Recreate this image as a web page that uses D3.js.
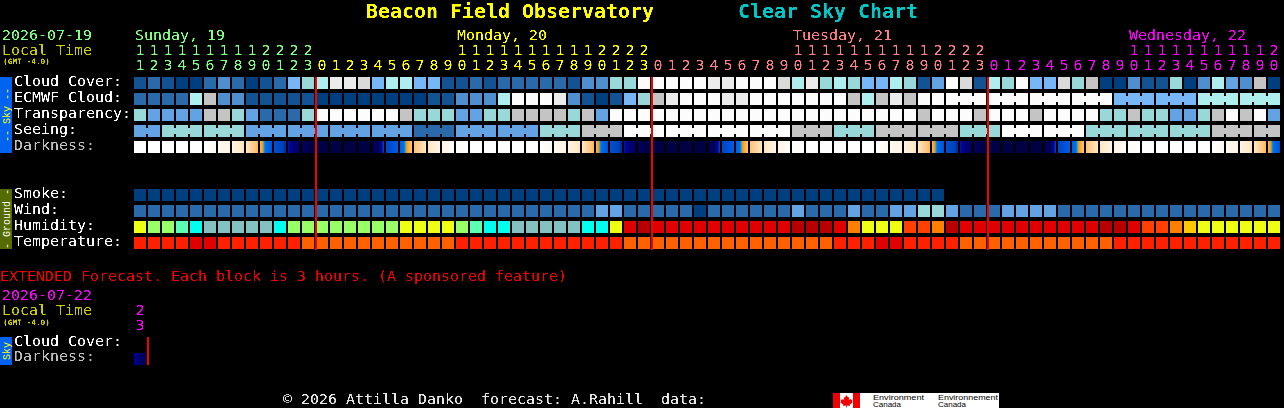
<!DOCTYPE html>
<html>
<head>
<meta charset="utf-8">
<title>Clear Sky Chart</title>
<script src="https://cdn.jsdelivr.net/npm/d3@7"></script>
<style>
html,body{margin:0;padding:0;background:#000;overflow:hidden}
svg{display:block}
text{white-space:pre}
</style>
</head>
<body>
<svg id="chart" width="1284" height="408"></svg>
<script>
// ---------- data ----------
const titleText = "Beacon Field Observatory";
const chartText = "Clear Sky Chart";
const firstHour = 11;
const dayNames = ["Sunday, 19", "Monday, 20", "Tuesday, 21", "Wednesday, 22"];
const skyRows = ["Cloud Cover:", "ECMWF Cloud:", "Transparency:", "Seeing:", "Darkness:"];
const groundRows = ["Smoke:", "Wind:", "Humidity:", "Temperature:"];
const extendedHours = [23];

const cloudCover = [1,2,1,0,0,2,3,2,0,1,2,5,6,
  7,10,10,9,5,7,7,5,5,1,1,2,1,2,2,2,2,2,1,3,3,6,6,11,
  11,11,11,11,10,10,11,11,11,9,7,10,6,7,6,5,5,7,6,1,4,11,9,1,
  7,6,11,5,5,9,6,8,0,0,3,1,1,6,0,3,7,4,3,8,0];
const ecmwfCloud = [2,2,2,2,7,8,3,3,1,1,1,1,1,
  0,0,0,0,0,0,0,0,1,1,3,3,3,7,11,11,11,10,3,1,0,1,5,6,
  8,10,11,11,11,10,10,11,11,11,11,11,11,11,8,7,8,10,8,11,11,11,11,11,
  11,11,11,11,11,11,11,11,11,5,5,5,5,5,5,7,7,7,7,7,7];
const transparency = [6,4,4,4,4,8,8,6,4,2,2,2,6,
  11,11,11,11,11,11,8,6,6,6,4,4,6,6,8,8,8,8,6,8,4,11,11,11,
  11,11,11,11,11,11,11,11,11,11,11,11,11,11,11,11,11,11,11,8,11,11,11,8,
  11,11,11,8,11,11,11,11,6,6,8,6,6,4,4,6,8,11,8,11,4];
const seeing = [4,4,6,6,6,6,6,6,4,4,4,4,4,
  4,4,4,4,4,4,4,2,2,2,4,4,4,4,4,4,6,6,6,8,8,8,11,11,
  11,11,11,11,11,11,11,11,11,11,8,8,8,6,6,6,8,8,8,8,8,8,6,6,
  6,11,11,11,11,11,11,6,6,6,6,6,6,6,6,6,8,8,8,8,8];
// darkness at each block boundary: 0 = daylight, 1 = full night
const darkness = [0,0,0,0,0,0,.05,.11,.2,.35,.5,.6,.78,.92,.97,.98,.98,.97,.55,.46,.32,.2,.1,.02,
  0,0,0,0,0,0,.05,.11,.2,.35,.5,.6,.78,.92,.97,.98,.98,.97,.55,.46,.32,.2,.1,.02,
  0,0,0,0,0,0,.05,.11,.2,.35,.5,.6,.78,.92,.97,.98,.98,.97,.55,.46,.32,.2,.1,.02,
  0,0,0,0,0,0,.05,.11,.2,.35,.5];
const smoke = [0,0,0,0,0,0,0,0,0,0,0,0,0,
  0,0,0,0,0,0,0,0,0,0,0,0,0,0,0,0,0,0,0,0,0,0,0,0,
  0,0,0,0,0,0,0,0,0,0,0,0,0,0,0,0,0,0,0,0,0];
const wind = [2,2,2,2,2,2,2,2,2,2,2,2,2,
  2,2,2,2,2,2,2,2,2,2,2,2,2,2,2,2,2,2,2,2,4,4,2,2,
  2,2,2,0,2,2,2,2,2,2,4,2,2,2,4,2,2,4,4,6,6,4,2,2,
  2,4,4,4,4,2,2,2,2,2,2,2,2,2,2,2,2,2,2,2,2];
const humidity = [60,55,55,50,45,40,40,40,40,40,45,55,55,
  55,55,55,55,55,55,60,60,60,60,55,50,45,45,40,40,40,40,40,45,45,60,85,95,
  85,85,85,85,85,85,85,85,85,85,95,95,95,85,70,60,60,60,75,75,70,95,85,85,
  85,85,85,85,85,85,85,85,95,95,85,75,75,70,65,60,60,60,60,60,60];
const temperature = [23,23,23,23,28,28,23,23,23,23,23,23,18,
  18,18,18,18,18,18,18,18,18,18,23,23,23,23,23,23,23,23,23,23,23,23,18,18,
  18,18,18,18,18,18,18,18,18,18,18,18,18,23,23,23,28,28,23,23,23,23,18,18,
  18,18,18,18,18,18,18,18,18,23,23,23,23,23,23,23,23,23,23,23,23];
const extendedDarkness = [.62,.82];

// ---------- colour scales ----------
const skyLevels = d3.scaleOrdinal().domain(d3.range(12)).range(
  ["#003f7f","#135393","#2a6aaa","#4f8fcf","#63a3e3","#77b7f7","#98d8d8","#aeeeee","#c4c4c4","#dadada","#ebebeb","#fcfcfc"]);
const humidityScale = d3.scaleOrdinal().domain([40,45,50,55,60,65,70,75,85,95]).range(
  ["#84c1c1","#00ffee","#5cffb4","#99ff66","#eeff14","#ffc800","#ff8000","#ff4000","#e00000","#b80000"]);
const temperatureScale = d3.scaleOrdinal().domain([18,23,28]).range(["#ff6000","#ff2000","#e00000"]);
const darknessRamp = d3.scaleLinear()
  .domain([0,.1,.2,.33,.385,.4,.41,.5,.58,.62,.75,.9,1])
  .range(["#ffffff","#fff4e6","#ffe6c4","#ffc070","#ff9800","#00a8ff","#0070e8","#0050d8","#0040b0","#000098","#000060","#000048","#000040"])
  .clamp(true);

// ---------- layout scales ----------
const svg = d3.select("#chart");
const x = d3.scaleBand().domain(d3.range(82)).range([134,1280]).paddingInner(2/14);
const step = x.step(), cell = x.bandwidth();
const ySky = d3.scaleBand().domain(skyRows).range([77,153]).paddingInner(4/16);
const yGround = d3.scaleBand().domain(groundRows).range([189,249]).paddingInner(4/16);
const hourOf = k => (firstHour + k) % 24;
const dayOf = k => k < 13 ? 0 : 1 + Math.floor((k-13)/24);
const dayColor = ["#80ff80","#ffff00","#ff8080","#ff00ff"];
const MONO = "'DejaVu Sans Mono',monospace";

// ---------- background ----------
svg.append("rect").attr("width",1284).attr("height",408).attr("fill","#000");

const defs = svg.append("defs");
const filt = defs.append("filter").attr("id","crisp").attr("filterUnits","userSpaceOnUse")
  .attr("x",0).attr("y",0).attr("width",1284).attr("height",408)
  .attr("color-interpolation-filters","sRGB");
filt.append("feComponentTransfer").append("feFuncA").attr("type","linear").attr("slope",3).attr("intercept",-1);

function gradientFor(id, a, b){
  const g = defs.append("linearGradient").attr("id",id);
  d3.range(cell+1).forEach(i=>{
    const t = i/cell;
    g.append("stop").attr("offset",t).attr("stop-color",darknessRamp(a+(b-a)*t));
  });
  return `url(#${id})`;
}

// ---------- blocks ----------
const cells = svg.append("g").attr("shape-rendering","crispEdges");
function row(values, y, color, joined){
  const g = cells.append("g");
  g.selectAll("rect.c").data(values).join("rect").attr("class","c")
    .attr("x",(d,i)=>x(i)).attr("y",y).attr("width",cell).attr("height",cell)
    .attr("fill",color);
  if(joined){
    g.selectAll("rect.j").data(values.map((v,i)=>({v,i})).filter(d=>d.i<values.length-1&&joined(d.i)))
      .join("rect").attr("class","j")
      .attr("x",d=>x(d.i)+cell).attr("y",y+3).attr("width",step-cell).attr("height",cell-6)
      .attr("fill",d=>color(d.v));
  }
}
row(cloudCover, ySky(skyRows[0]), d=>skyLevels(d));
row(ecmwfCloud, ySky(skyRows[1]), d=>skyLevels(d), i=>i>=58 && (i+1)%3!==1);
row(transparency, ySky(skyRows[2]), d=>skyLevels(d));
row(seeing, ySky(skyRows[3]), d=>skyLevels(d), i=>(i+1)%3!==2);
cells.append("g").selectAll("rect").data(d3.range(82)).join("rect")
  .attr("x",k=>x(k)).attr("y",ySky(skyRows[4])).attr("width",cell).attr("height",cell)
  .attr("fill",k=>gradientFor("dk"+k,darkness[k],darkness[k+1]));
row(smoke, yGround(groundRows[0]), d=>skyLevels(d));
row(wind, yGround(groundRows[1]), d=>skyLevels(d));
row(humidity, yGround(groundRows[2]), d=>humidityScale(d));
row(temperature, yGround(groundRows[3]), d=>temperatureScale(d));

// extended forecast
const yExtDark = 353;
cells.append("rect").attr("x",x(0)).attr("y",yExtDark).attr("width",cell).attr("height",cell)
  .attr("fill",gradientFor("dkx",extendedDarkness[0],extendedDarkness[1]));

// red midnight lines
const midnights = d3.range(82).filter(k=>hourOf(k)===0);
cells.append("g").selectAll("rect").data(midnights).join("rect")
  .attr("x",k=>x(k)-1).attr("y",77).attr("width",2).attr("height",173).attr("fill","#f00000");
cells.append("rect").attr("x",x(1)-1).attr("y",337).attr("width",2).attr("height",28).attr("fill","#f00000");

// side bars
cells.append("rect").attr("x",0).attr("y",77).attr("width",12).attr("height",76).attr("fill","#0064f0");
cells.append("rect").attr("x",0).attr("y",189).attr("width",12).attr("height",60).attr("fill","#556b00");
cells.append("rect").attr("x",0).attr("y",337).attr("width",12).attr("height",28).attr("fill","#0064f0");

// logos
cells.append("rect").attr("x",833).attr("y",393).attr("width",166).attr("height",15).attr("fill","#fff");
cells.append("rect").attr("x",833).attr("y",393).attr("width",7).attr("height",15).attr("fill","#f00000");
cells.append("rect").attr("x",853).attr("y",393).attr("width",7).attr("height",15).attr("fill","#f00000");
svg.append("path").attr("fill","#f00000")
  .attr("d","M846.5 395l1.5 2.5 1.2-.6-.4 3 1.6-1.2.5 1.2 1.6-.3-.6 2 .9.6-3.2 2.6.3 1.2-3-.4v2h-.8v-2l-3 .4.3-1.2-3.2-2.6.9-.6-.6-2 1.6.3.5-1.2 1.6 1.2-.4-3 1.2.6z");

// ---------- text ----------
const txt = svg.append("g").attr("filter","url(#crisp)").attr("font-family",MONO).attr("font-size",13.6);
function put(s,px,py,fill,opts={}){
  const t = txt.append("text").attr("x",px).attr("y",py).attr("fill",fill).text(s)
    .attr("textLength",s.length*9).attr("lengthAdjust","spacingAndGlyphs");
  Object.entries(opts).forEach(([k,v])=>t.attr(k,v));
  return t;
}
// title
const big = {"font-size":20,"font-weight":"bold"};
put(titleText,366,18,"#ffff00",{...big,textLength:titleText.length*12});
put(chartText,738,18,"#00c8c8",{...big,textLength:chartText.length*12});

const small = {"font-size":7.5,"font-weight":"bold",textLength:47};
put("2026-07-19",2,40,"#80ff80");
put("Local Time",2,55,"#cccc00");
put("(GMT -4.0)",3,64,"#cccc00",small);

// day names
const dayStart = [0,23,47,71];
dayNames.forEach((n,i)=>put(n,x(dayStart[i])+1,40,dayColor[i]));

// hour digits
d3.range(82).forEach(k=>{
  const h = hourOf(k), c = x(k)+cell/2, col = dayColor[dayOf(k)];
  if(h>=10) put(String(Math.floor(h/10)),c,55,col,{"text-anchor":"middle"});
  put(String(h%10),c,70,col,{"text-anchor":"middle"});
});

skyRows.forEach(r=>put(r,14,ySky(r)+9,r==="Darkness:"?"#c0c0c0":"#ffffff"));
groundRows.forEach(r=>put(r,14,yGround(r)+9,"#ffffff"));

const vert = svg.append("g").attr("font-family","'Liberation Mono',monospace").attr("font-size",10);
function vertical(s,cy,fill){
  vert.append("text").attr("transform",`translate(9.5,${cy}) rotate(-90)`)
    .attr("text-anchor","middle").attr("fill",fill).text(s);
}
vertical("-- Sky --",115,"#ffff00");
vertical("- Ground -",219,"#ffffff");
vertical("Sky",351,"#ffff00");

put("EXTENDED Forecast. Each block is 3 hours. (A sponsored feature)",0,281,"#f00000");
put("2026-07-22",2,300,"#ff00ff");
put("Local Time",2,315,"#cccc00");
put("(GMT -4.0)",3,325,"#cccc00",small);
extendedHours.forEach(h=>{
  const c = x(0)+cell/2;
  put(String(Math.floor(h/10)),c,315,"#ff00ff",{"text-anchor":"middle"});
  put(String(h%10),c,330,"#ff00ff",{"text-anchor":"middle"});
});
put("Cloud Cover:",14,346,"#ffffff");
put("Darkness:",14,361,"#c0c0c0");

put("\u00a9 2026 Attilla Danko  forecast: A.Rahill  data:",283,404,"#e8e8e8");

// logo text
const logoText = svg.append("g").attr("font-family","'Liberation Sans',sans-serif").attr("font-size",7.4).attr("fill","#000");
[["Environment",873,400,51],["Canada",873,407,28],["Environnement",938,400,60],["Canada",938,407,28]].forEach(d=>
  logoText.append("text").attr("x",d[1]).attr("y",d[2]).attr("textLength",d[3]).attr("lengthAdjust","spacingAndGlyphs").text(d[0]));
</script>
</body>
</html>
